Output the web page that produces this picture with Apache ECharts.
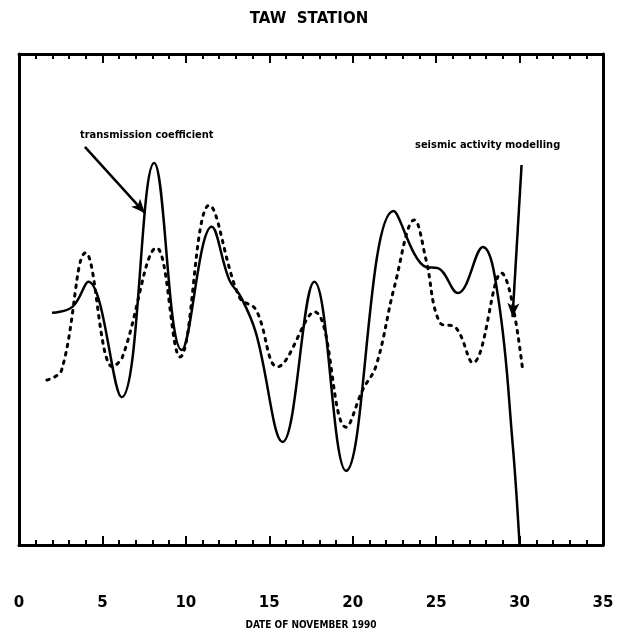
<!DOCTYPE html>
<html><head><meta charset="utf-8">
<script src="https://cdn.jsdelivr.net/npm/echarts@6/dist/echarts.min.js"></script>
<style>html,body{margin:0;padding:0;background:#fff}#c{width:618px;height:636px}</style>
</head><body><div id="c"></div>
<script>
// Transmission coefficient (solid): [day, relative value]
const transmissionX = [1.98, 3.2, 4.15, 6.15, 8.1, 9.75, 11.55, 12.6, 13.3, 14.2, 15.8, 17.7, 19.6, 22.45, 24.4, 25.1, 26.3, 27.8, 28.74, 29.58, 30.0];
const transmissionY = [47.3, 48.5, 53.6, 30.1, 77.8, 39.7, 64.8, 54.0, 50.5, 43.2, 21.0, 53.6, 15.1, 68.0, 56.6, 56.4, 51.3, 60.7, 49.9, 20.8, 0];
// Seismic activity modelling (dotted)
const seismicX = [1.67, 2.55, 4.0, 5.6, 6.2, 8.25, 9.65, 11.4, 13.2, 14.2, 15.5, 17.7, 19.6, 20.6, 21.4, 22.5, 23.7, 24.4, 25.2, 26.2, 27.2, 28.9, 30.2];
const seismicY = [33.6, 35.6, 59.5, 36.3, 38.3, 60.5, 38.3, 69.2, 50.5, 47.9, 36.3, 47.5, 24.0, 31.6, 36.5, 52.6, 66.2, 58.0, 45.4, 44.2, 37.1, 55.4, 35.2];
const xTicks = [0, 5, 10, 15, 20, 25, 30, 35];
// annotation arrows in data coords
const arrowTransmission = [[3.95, 81.1], [7.55, 67.6]];
const arrowSeismic = [[30.12, 77.4], [29.58, 46.4]];

const zip = (xs, ys) => xs.map((x, i) => [x, ys[i]]);
const chart = echarts.init(document.getElementById('c'));
const axisCommon = {
  type: 'value', min: xTicks[0], max: xTicks[xTicks.length - 1], interval: 5,
  axisLine: { show: true, onZero: false, lineStyle: { color: '#000', width: 3 } },
  axisTick: { show: true, inside: true, length: 9, lineStyle: { color: '#000', width: 2 } },
  minorTick: { show: true, splitNumber: 5, length: 5, lineStyle: { color: '#000', width: 2 } },
  splitLine: { show: false }
};
chart.setOption({
  animation: false,
  backgroundColor: '#fff',
  title: { text: 'TAW  STATION', left: 'center', top: 7,
    textStyle: { fontFamily: 'DejaVu Sans', fontWeight: 'bold', fontSize: 15, color: '#000' } },
  grid: { left: 19, right: 15, top: 54, bottom: 91, outerBoundsMode: 'none', containLabel: false },
  xAxis: [
    Object.assign({}, axisCommon, {
      position: 'bottom',
      name: 'DATE OF NOVEMBER 1990', nameLocation: 'middle', nameGap: 75,
      nameTextStyle: { fontFamily: 'DejaVu Sans Condensed', fontWeight: 'bold', fontSize: 10, color: '#000' },
      axisLabel: { margin: 51, fontFamily: 'DejaVu Sans', fontWeight: 'bold', fontSize: 15, color: '#000' }
    }),
    Object.assign({}, axisCommon, { position: 'top', axisLabel: { show: false } })
  ],
  yAxis: [
    { type: 'value', min: 0, max: 100, position: 'left',
      axisLine: { show: true, onZero: false, lineStyle: { color: '#000', width: 3 } },
      axisTick: { show: false }, axisLabel: { show: false }, splitLine: { show: false } },
    { type: 'value', min: 0, max: 100, position: 'right',
      axisLine: { show: true, onZero: false, lineStyle: { color: '#000', width: 3 } },
      axisTick: { show: false }, axisLabel: { show: false }, splitLine: { show: false } }
  ],
  graphic: [
    { type: 'text', left: 80, top: 130, style: { text: 'transmission coefficient', font: 'bold 11px "DejaVu Sans Condensed"', fill: '#000' } },
    { type: 'text', left: 415, top: 140, style: { text: 'seismic activity modelling', font: 'bold 11px "DejaVu Sans Condensed"', fill: '#000' } }
  ],
  series: [
    { type: 'line', name: 'transmission coefficient', data: zip(transmissionX, transmissionY),
      smooth: 0.4, showSymbol: false, clip: true,
      lineStyle: { color: '#000', width: 2.5 },
      markLine: { silent: true, symbol: ['none', 'arrow'], symbolSize: [9, 14],
        lineStyle: { color: '#000', width: 2.5, type: 'solid' }, label: { show: false },
        data: [[{ coord: arrowTransmission[0] }, { coord: arrowTransmission[1] }],
               [{ coord: arrowSeismic[0] }, { coord: arrowSeismic[1] }]] } },
    { type: 'line', name: 'seismic activity modelling', data: zip(seismicX, seismicY),
      smooth: 0.4, showSymbol: false,
      lineStyle: { color: '#000', width: 3, type: [2.5, 6], cap: 'round' } }
  ]
});
</script></body></html>
